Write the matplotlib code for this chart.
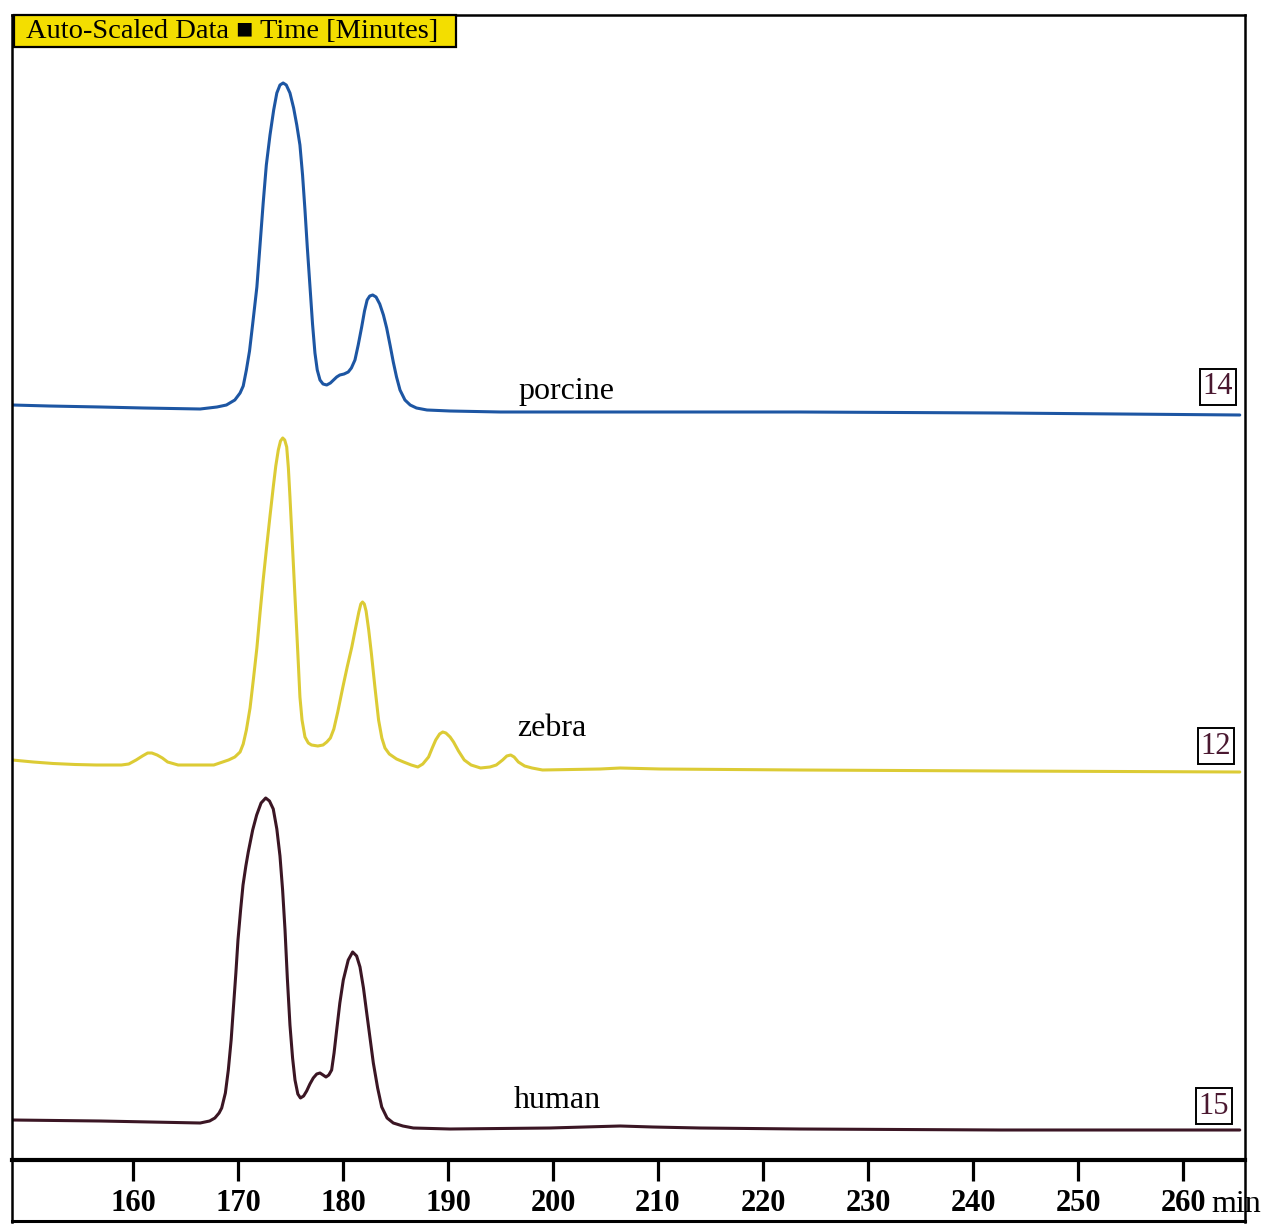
import matplotlib
matplotlib.use("Agg")
import matplotlib.pyplot as plt
from matplotlib.lines import Line2D
from matplotlib.patches import Rectangle

plt.rcParams['font.family'] = ['Liberation Serif', 'DejaVu Serif']

# retention time (min) and detector signal (arbitrary units)
porcine_t = [148.5, 152.0, 156.9, 161.0, 166.4, 168.0, 168.9, 169.7, 170.2, 170.5,
             170.8, 171.1, 171.4, 171.8, 172.1, 172.4, 172.7, 173.05, 173.4, 173.7,
             174.0, 174.3, 174.6, 174.95, 175.3, 175.6, 175.9, 176.15, 176.38, 176.6,
             176.86, 177.1, 177.33, 177.55, 177.81, 178.1, 178.45, 178.8, 179.1, 179.4,
             179.7, 180.1, 180.5, 180.8, 181.14, 181.45, 181.78, 182.05, 182.3, 182.55,
             182.83, 183.15, 183.5, 183.85, 184.16, 184.5, 184.79, 185.1, 185.43, 185.9,
             186.4, 187.0, 188.0, 190.2, 195.0, 210.0, 223.5, 242.6, 265.4]
porcine_y = [0.5, 0.4, 0.3, 0.2, 0.1, 0.3, 0.5, 1.0, 1.7, 2.4,
             4.0, 5.9, 8.6, 12.3, 16.5, 20.7, 24.5, 27.5, 30.0, 31.7,
             32.5, 32.7, 32.5, 31.7, 30.2, 28.5, 26.5, 23.5, 20.0, 16.3,
             12.3, 8.6, 5.7, 4.0, 3.0, 2.6, 2.5, 2.7, 3.0, 3.3,
             3.5, 3.6, 3.8, 4.2, 5.0, 6.5, 8.3, 9.9, 11.0, 11.4,
             11.5, 11.3, 10.6, 9.5, 8.2, 6.4, 4.8, 3.3, 2.0, 1.0,
             0.5, 0.2, 0.0, -0.1, -0.2, -0.2, -0.2, -0.3, -0.5]

zebra_t = [148.5, 150.5, 152.4, 154.5, 156.5, 158.9, 159.6, 160.3, 160.9, 161.4,
           161.8, 162.3, 162.8, 163.3, 164.3, 167.7, 169.1, 169.7, 170.2, 170.5,
           170.8, 171.15, 171.46, 171.8, 172.1, 172.4, 172.73, 173.05, 173.36, 173.6,
           173.84, 174.05, 174.26, 174.45, 174.64, 174.8, 174.95, 175.1, 175.27, 175.43,
           175.59, 175.75, 175.9, 176.1, 176.38, 176.7, 177.0, 177.6, 178.1, 178.46,
           178.8, 179.13, 179.5, 179.99, 180.4, 180.84, 181.2, 181.51, 181.7, 181.86,
           182.03, 182.2, 182.45, 182.7, 183.05, 183.39, 183.7, 184.0, 184.41, 185.1,
           185.77, 186.5, 187.13, 187.6, 188.15, 188.5, 188.83, 189.2, 189.5, 189.8,
           190.2, 190.53, 191.0, 191.55, 192.2, 193.1, 194.0, 194.6, 195.2, 195.6,
           195.97, 196.3, 196.7, 197.3, 198.0, 199.0, 204.5, 206.4, 210.2, 223.5,
           242.6, 265.4]
zebra_y = [0.8, 0.6, 0.45, 0.35, 0.3, 0.3, 0.4, 0.8, 1.2, 1.5,
           1.5, 1.3, 1.0, 0.6, 0.3, 0.3, 0.8, 1.1, 1.6, 2.4,
           3.8, 6.0, 8.8, 12.0, 15.5, 18.8, 22.1, 25.2, 28.1, 30.2,
           31.8, 32.7, 33.0, 32.8, 32.1, 30.0, 27.1, 24.0, 20.5, 17.1,
           13.8, 10.4, 7.1, 4.8, 3.1, 2.5, 2.3, 2.2, 2.3, 2.6,
           3.0, 3.9, 5.6, 8.1, 10.1, 12.1, 14.0, 15.6, 16.4, 16.6,
           16.4, 15.7, 13.8, 11.5, 8.0, 4.8, 3.0, 2.0, 1.4, 0.9,
           0.6, 0.3, 0.1, 0.4, 1.1, 2.0, 2.8, 3.4, 3.6, 3.5,
           3.1, 2.6, 1.7, 0.8, 0.3, 0.0, 0.1, 0.3, 0.8, 1.2,
           1.3, 1.1, 0.6, 0.2, 0.0, -0.2, -0.1, 0.0, -0.1, -0.2,
           -0.3, -0.4]

human_t = [148.5, 156.9, 166.4, 167.3, 167.8, 168.2, 168.45, 168.8, 169.08, 169.35,
           169.55, 169.8, 170.0, 170.25, 170.48, 170.75, 170.98, 171.4, 171.78, 172.2,
           172.64, 173.0, 173.36, 173.7, 174.0, 174.25, 174.48, 174.7, 174.95, 175.2,
           175.43, 175.7, 175.95, 176.25, 176.54, 176.85, 177.17, 177.5, 177.81, 178.1,
           178.38, 178.65, 178.92, 179.15, 179.4, 179.7, 180.03, 180.5, 180.92, 181.3,
           181.62, 181.95, 182.26, 182.6, 182.89, 183.3, 183.69, 184.2, 184.79, 185.7,
           186.7, 190.2, 199.7, 203.0, 206.4, 209.5, 214.0, 223.5, 242.6, 265.4]
human_y = [0.8, 0.7, 0.5, 0.7, 1.0, 1.5, 2.0, 3.5, 5.8, 8.8,
           11.8, 15.5, 18.8, 21.8, 24.3, 26.2, 27.6, 29.8, 31.3, 32.5,
           33.0, 32.7, 31.9, 29.9, 27.2, 23.8, 19.8, 15.0, 10.3, 7.0,
           4.8, 3.4, 3.0, 3.2, 3.7, 4.4, 5.0, 5.4, 5.5, 5.3,
           5.1, 5.3, 5.8, 7.5, 9.8, 12.5, 14.8, 16.8, 17.6, 17.2,
           16.1, 14.0, 11.5, 8.8, 6.5, 4.0, 2.1, 1.0, 0.5, 0.2,
           0.0, -0.1, 0.0, 0.1, 0.2, 0.1, 0.0, -0.1, -0.2, -0.2]

names = ["porcine", "zebra", "human"]
run_ids = ["14", "12", "15"]
ticks = [160, 170, 180, 190, 200, 210, 220, 230, 240, 250, 260]

# stacking offsets for the three runs
offsets = [75.0, 39.2, 3.2]
colors = ["#1d56a3", "#dccb35", "#3b1624"]

W, H = 1264, 1224
fig = plt.figure(figsize=(W / 100, H / 100), dpi=100)
ax = fig.add_axes([12 / W, 64 / H, (1245 - 12) / W, (1160 - 15) / H])

series = [(porcine_t, porcine_y), (zebra_t, zebra_y), (human_t, human_y)]
for (t, y), off, c in zip(series, offsets, colors):
    ax.plot(t, [v + off for v in y], color=c, lw=2.2,
            solid_joinstyle="round", solid_capstyle="round")

ax.set_xlim(148.48, 265.9)
ax.set_ylim(0, 114.5)
ax.set_yticks([])
ax.set_xticks(ticks)
ax.set_xticklabels([str(v) for v in ticks], fontsize=22, fontweight="bold")
ax.tick_params(axis="x", length=15, width=2.3, pad=6, direction="out")
for s in ["left", "top", "right"]:
    ax.spines[s].set_linewidth(1.8)
ax.spines["bottom"].set_linewidth(3.0)

# trace labels and run numbers
label_x = [518, 517, 514]
label_y = [391, 728, 1100]
box_x = [1218, 1216, 1214]
box_y = [387, 746, 1106]
for name, rid, lx, ly, bx, by in zip(names, run_ids, label_x, label_y, box_x, box_y):
    fig.text(lx / W, 1 - ly / H, name, fontsize=23, va="center", ha="left", color="black")
    fig.text(bx / W, 1 - by / H, rid, fontsize=22, va="center", ha="center", color="#4a1830",
             bbox=dict(boxstyle="square,pad=0.1", fc="white", ec="black", lw=1.4))

fig.text(1211 / W, 1 - 1204 / H, "min", fontsize=23, va="center", ha="left")

# header box
fig.add_artist(Rectangle((14 / W, 1 - 47 / H), (456 - 14) / W, 32 / H,
                         transform=fig.transFigure, fc="#f3de00", ec="black", lw=1.6))
fig.text(26 / W, 1 - 31 / H, "Auto-Scaled Data \u25a0 Time [Minutes]", fontsize=20.5,
         va="center", ha="left")

# lower frame below the time axis
fig.add_artist(Line2D([12 / W, 12 / W], [1 - 1160 / H, 1 - 1222 / H], color="black", lw=1.8))
fig.add_artist(Line2D([1245 / W, 1245 / W], [1 - 1160 / H, 1 - 1222 / H], color="black", lw=1.8))
fig.add_artist(Line2D([12 / W, 1245 / W], [1 - 1221 / H, 1 - 1221 / H], color="black", lw=2.2))

fig.savefig("out.png", dpi=100)
